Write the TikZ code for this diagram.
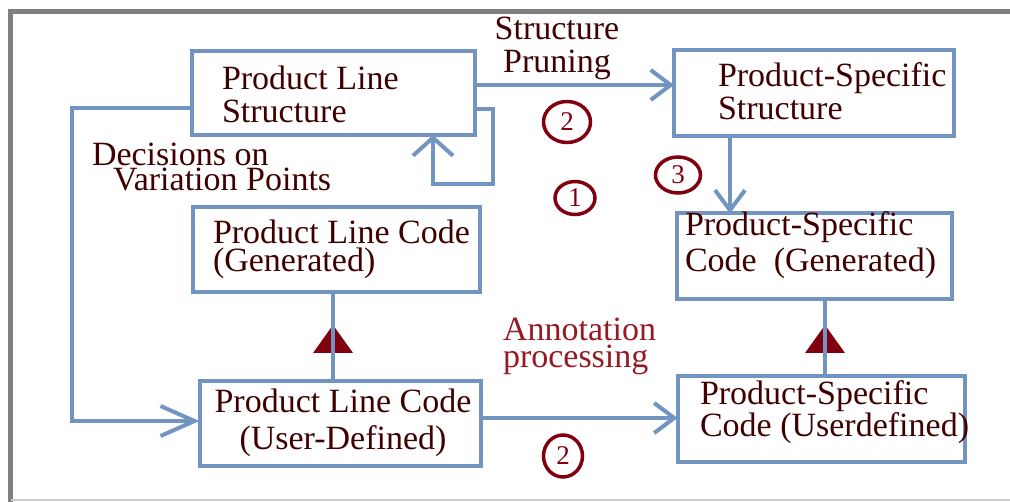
\documentclass[tikz,border=0pt]{standalone}
\usepackage{fontspec}
\setmainfont{Liberation Serif}
\usetikzlibrary{arrows.meta, shapes.geometric, decorations.markings}
\definecolor{boxblue}{RGB}{114,148,192}
\definecolor{txtred}{RGB}{64,0,0}
\definecolor{annred}{RGB}{150,25,35}
\definecolor{numred}{RGB}{128,0,16}
\definecolor{framegray}{RGB}{128,128,128}
\newcommand{\boxfont}[1]{\fontsize{34}{#1}\selectfont}
\tikzstyle{box}=[draw=boxblue,line width=4pt,inner sep=0pt,outer sep=0pt]
\tikzstyle{lbl}=[inner sep=0pt,outer sep=0pt,anchor=base west,align=left,text=txtred]
\tikzstyle{link}=[draw=boxblue,line width=4pt]
\tikzstyle{flow}=[link,-{Straight Barb[length=20pt,width=30pt]}]
\tikzstyle{num}=[ellipse,draw=numred,line width=3.5pt,inner sep=0pt,outer sep=0pt,text=numred,font=\fontsize{27}{27}\selectfont]
\tikzset{gen/.style={link,preaction={decorate,decoration={markings,
  mark=at position #1 with {\fill[numred] (0,-20) -- (28,0) -- (0,20) -- cycle;}}}}}

\begin{document}
\begin{tikzpicture}[x=1pt,y=-1pt]
  \useasboundingbox (0,0) rectangle (1010,502);
  % frame
  \draw[framegray,line width=5pt] (10.5,502) -- (10.5,12) -- (1010,12);
  \draw[black!20,line width=2pt] (10.5,500) -- (1010,500);
  % boxes
  \node[box,minimum width=283pt,minimum height=84pt] (pls) at (333.5,93) {};
  \node[box,minimum width=280pt,minimum height=86pt] (pss) at (814,93.5) {};
  \node[box,minimum width=287pt,minimum height=85pt] (plcg) at (336,250) {};
  \node[box,minimum width=275pt,minimum height=86pt] (pscg) at (814.5,256.5) {};
  \node[box,minimum width=281pt,minimum height=85pt] (plcu) at (340,424) {};
  \node[box,minimum width=287pt,minimum height=86pt] (pscu) at (821,419.5) {};
  % box texts (placed at the baseline of the last line)
  \node[lbl,font=\boxfont{33}] (pls-t) at (222,123) {Product Line\\Structure};
  \node[lbl,font=\boxfont{33}] (pss-t) at (718,120) {Product-Specific\\Structure};
  \node[lbl,font=\boxfont{28}] (plcg-t) at (213,272) {Product Line Code\\(Generated)};
  \node[lbl,font=\boxfont{36}] (pscg-t) at (685,272) {Product-Specific\\Code\ \ (Generated)};
  \node[lbl,font=\boxfont{37},anchor=base,align=center] (plcu-t) at (343,450) {Product Line Code\\(User-Defined)};
  \node[lbl,font=\boxfont{30}] (pscu-t) at (700,437) {Product-Specific\\Code (Userdefined)};
  % edge texts
  \node[lbl,font=\boxfont{25}] (dec) at (92,191) {Decisions on\\\hspace*{21pt}Variation Points};
  \node[lbl,font=\boxfont{33},anchor=base,align=center] (prune) at (557,73) {Structure\\Pruning};
  \node[lbl,font=\boxfont{27},text=annred] (annot) at (503,368) {Annotation\\processing};
  % step numbers
  \node[num,minimum width=47pt,minimum height=41pt] (n2a) at (567,122) {2};
  \node[num,minimum width=40pt,minimum height=33pt] (n1) at (575,198) {1};
  \node[num,minimum width=45pt,minimum height=36pt] (n3) at (678,175) {3};
  \node[num,minimum width=39pt,minimum height=42pt] (n2b) at (563,456) {2};
  % connectors
  \draw[flow] (pls.east |- 0,85) -- (pss.west |- 0,85);
  \draw[flow,-{Straight Barb[length=18pt,width=40pt]}] (pls.east |- 0,109) -| (493,184) -| (pls.south -| 433,0);
  \draw[flow,-{Straight Barb[length=34pt,width=30pt]}] (pls.west |- 0,108) -| (72,421) -- (plcu.west |- 0,421);
  \draw[flow] (pss.south -| 730,0) -- (pscg.north -| 730,0);
  \draw[flow] (plcu.east |- 0,418) -- (pscu.west |- 0,418);
  \draw[gen=28.5pt] (plcu.north -| 333,0) -- (plcg.south -| 333,0);
  \draw[gen=23.5pt] (pscu.north -| 825,0) -- (pscg.south -| 825,0);
\end{tikzpicture}
\end{document}
